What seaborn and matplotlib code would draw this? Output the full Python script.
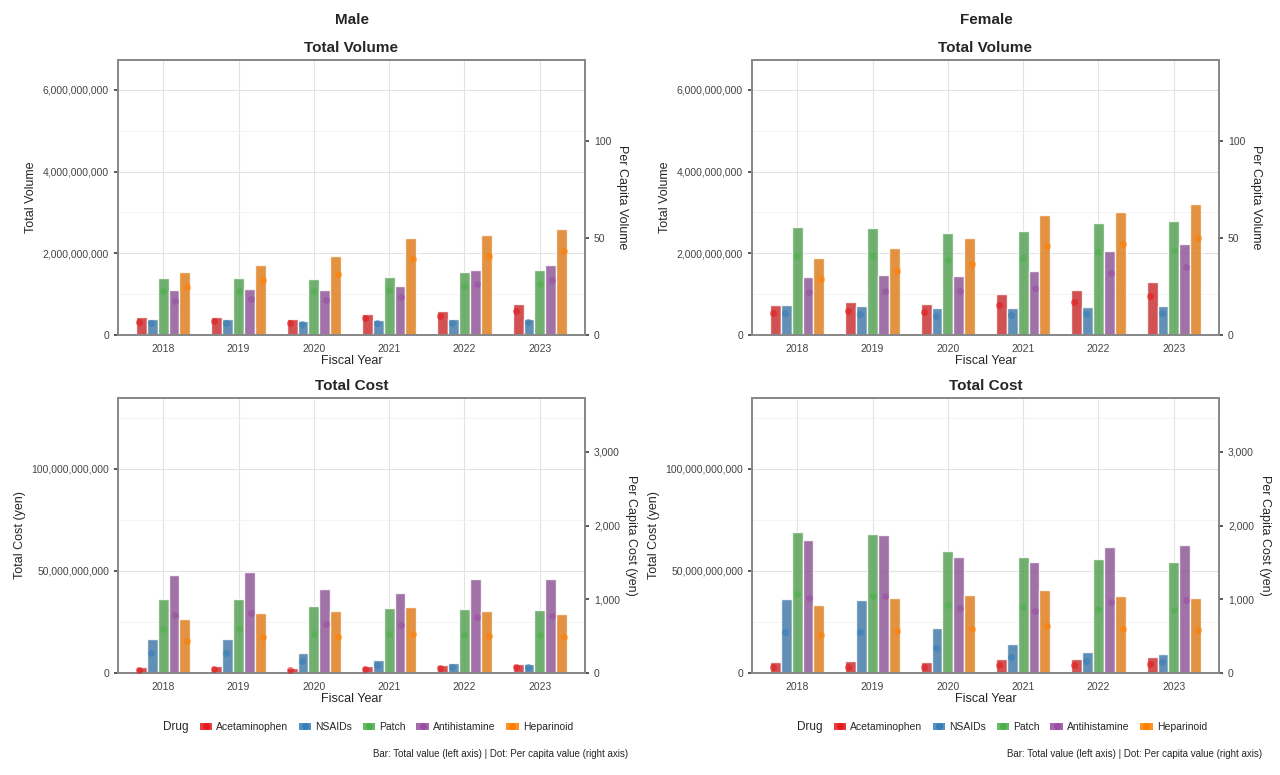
import matplotlib
matplotlib.use("Agg")
import matplotlib.pyplot as plt
import matplotlib.ticker as mticker
from matplotlib.patches import Patch
from matplotlib.lines import Line2D
import numpy as np
import pandas as pd
import seaborn as sns

YEARS = ["2018", "2019", "2020", "2021", "2022", "2023"]
DRUGS = ["Acetaminophen", "NSAIDs", "Patch", "Antihistamine", "Heparinoid"]
COLORS = ["#E41A1C", "#377EB8", "#4DAF4A", "#984EA3", "#FF7F00"]

# total volume (billions), per drug, per year
male_vol = {
    "Acetaminophen": [0.43, 0.45, 0.38, 0.51, 0.58, 0.75],
    "NSAIDs": [0.38, 0.38, 0.35, 0.37, 0.38, 0.40],
    "Patch": [1.40, 1.40, 1.38, 1.42, 1.55, 1.60],
    "Antihistamine": [1.09, 1.13, 1.10, 1.19, 1.60, 1.71],
    "Heparinoid": [1.53, 1.72, 1.93, 2.38, 2.45, 2.60],
}
male_vol_pc = {
    "Acetaminophen": [6.9, 7.4, 6.0, 8.6, 9.8, 12.6],
    "NSAIDs": [6.4, 6.0, 5.5, 6.0, 6.4, 6.9],
    "Patch": [22.9, 22.9, 22.8, 23.3, 25.5, 26.4],
    "Antihistamine": [17.8, 18.6, 18.1, 19.7, 26.4, 28.4],
    "Heparinoid": [25.0, 28.3, 31.7, 39.1, 40.7, 43.4],
}
female_vol = {
    "Acetaminophen": [0.73, 0.80, 0.77, 1.00, 1.09, 1.30],
    "NSAIDs": [0.73, 0.70, 0.65, 0.67, 0.69, 0.72],
    "Patch": [2.65, 2.62, 2.50, 2.54, 2.74, 2.80],
    "Antihistamine": [1.42, 1.48, 1.45, 1.56, 2.06, 2.22],
    "Heparinoid": [1.88, 2.13, 2.38, 2.93, 3.02, 3.21],
}
female_vol_pc = {
    "Acetaminophen": [11.2, 12.6, 11.7, 15.5, 16.9, 20.2],
    "NSAIDs": [11.2, 10.9, 10.0, 10.3, 10.9, 11.2],
    "Patch": [41.0, 40.9, 38.8, 39.7, 42.8, 44.0],
    "Antihistamine": [22.1, 22.9, 22.6, 24.3, 32.2, 35.0],
    "Heparinoid": [29.1, 32.9, 36.9, 45.7, 47.2, 50.3],
}
# total cost (billion yen)
male_cost = {
    "Acetaminophen": [3.0, 3.3, 2.6, 3.3, 3.8, 4.6],
    "NSAIDs": [16.6, 16.6, 10.0, 6.6, 5.1, 4.6],
    "Patch": [36.4, 36.1, 32.6, 31.8, 31.3, 30.8],
    "Antihistamine": [48.2, 49.5, 41.0, 39.2, 46.1, 46.2],
    "Heparinoid": [26.6, 29.2, 30.3, 32.3, 30.2, 29.0],
}
male_cost_pc = {
    "Acetaminophen": [45, 50, 45, 55, 64, 77],
    "NSAIDs": [273, 273, 164, 109, 82, 77],
    "Patch": [591, 591, 532, 523, 518, 514],
    "Antihistamine": [786, 809, 668, 645, 764, 773],
    "Heparinoid": [432, 482, 495, 532, 500, 482],
}
female_cost = {
    "Acetaminophen": [5.4, 6.1, 5.4, 6.7, 6.7, 8.0],
    "NSAIDs": [36.2, 35.7, 22.0, 14.3, 10.5, 9.2],
    "Patch": [69.2, 67.9, 59.7, 57.0, 55.6, 54.4],
    "Antihistamine": [65.2, 67.5, 56.7, 54.3, 61.8, 62.6],
    "Heparinoid": [33.3, 36.9, 38.2, 40.7, 37.9, 36.7],
}
female_cost_pc = {
    "Acetaminophen": [77, 86, 77, 105, 105, 127],
    "NSAIDs": [559, 555, 336, 218, 164, 145],
    "Patch": [1068, 1050, 923, 891, 873, 855],
    "Antihistamine": [1014, 1050, 877, 845, 968, 986],
    "Heparinoid": [514, 568, 591, 636, 591, 577],
}


def to_long(total, per_capita, scale):
    rows = []
    for drug in DRUGS:
        for i, year in enumerate(YEARS):
            rows.append({"year": year, "drug": drug,
                         "total": total[drug][i] * scale,
                         "pc": per_capita[drug][i]})
    return pd.DataFrame(rows)


def draw_panel(ax, df, title, ylabel, rlabel, ylim, rlim, yticks, rticks):
    sns.barplot(data=df, x="year", y="total", hue="drug", hue_order=DRUGS,
                palette=COLORS, width=0.72, alpha=0.85, edgecolor="white",
                linewidth=1, legend=False, ax=ax, zorder=2)
    ax.set_ylim(*ylim)
    ax.set_yticks(yticks)
    ax.yaxis.set_minor_locator(mticker.MultipleLocator((yticks[1] - yticks[0]) / 2))
    ax.yaxis.set_major_formatter(mticker.FuncFormatter(lambda v, p: f"{v:,.0f}"))
    ax.grid(True, which="major", color="#e3e3e3", lw=0.8, zorder=0)
    ax.grid(True, which="minor", axis="y", color="#f1f1f1", lw=0.6, zorder=0)
    ax.set_axisbelow(True)
    ax.set_title(title, fontsize=11, fontweight="bold")
    ax.set_xlabel("Fiscal Year", fontsize=9, labelpad=1)
    ax.set_ylabel(ylabel, fontsize=9)
    ax.tick_params(labelsize=7.5, colors="#444444", length=3, which="major")
    ax.tick_params(which="minor", length=0)
    for s in ax.spines.values():
        s.set_color("#888888")

    ax2 = ax.twinx()
    sns.stripplot(data=df, x="year", y="pc", hue="drug", hue_order=DRUGS,
                  palette=COLORS, dodge=True, jitter=False, size=5, alpha=0.6,
                  legend=False, ax=ax2, zorder=3)
    ax2.set_ylim(*rlim)
    ax2.set_yticks(rticks)
    ax2.yaxis.set_major_formatter(mticker.FuncFormatter(lambda v, p: f"{v:,.0f}"))
    ax2.set_ylabel(rlabel, fontsize=9, rotation=270, labelpad=12)
    ax2.tick_params(labelsize=7.5, colors="#444444", length=3)
    ax2.grid(False)
    for s in ax2.spines.values():
        s.set_color("#888888")
    ax.set_xlim(-0.6, 5.6)


sns.set_theme(style="white")
plt.rcParams["font.family"] = ["Liberation Sans", "DejaVu Sans"]

fig = plt.figure(figsize=(12.8, 7.75), dpi=100)
W, H = 1280, 775
cols = [(118, "Male", male_vol, male_vol_pc, male_cost, male_cost_pc),
        (752, "Female", female_vol, female_vol_pc, female_cost, female_cost_pc)]
for x0, name, vol, vol_pc, cost, cost_pc in cols:
    w = 467
    ax_v = fig.add_axes([x0 / W, 1 - 335 / H, w / W, 275 / H])
    draw_panel(ax_v, to_long(vol, vol_pc, 1e9), "Total Volume", "Total Volume",
               "Per Capita Volume", (0, 6.73e9), (0, 142),
               [0, 2e9, 4e9, 6e9], [0, 50, 100])
    ax_c = fig.add_axes([x0 / W, 1 - 673 / H, w / W, 275 / H])
    draw_panel(ax_c, to_long(cost, cost_pc, 1e9), "Total Cost", "Total Cost (yen)",
               "Per Capita Cost (yen)", (0, 134.6e9), (0, 3732),
               [0, 50e9, 100e9], [0, 1000, 2000, 3000])
    fig.text((x0 + 234) / W, 1 - 20 / H, name, ha="center", va="center",
             fontsize=11, fontweight="bold")

    handles = [(Patch(facecolor=c, alpha=0.85, edgecolor="none"),
                Line2D([], [], marker="o", ls="none", color=c, markersize=4))
               for c in COLORS]
    leg = fig.legend(handles, DRUGS, title="Drug", ncol=5, frameon=False,
                     loc="center", bbox_to_anchor=((x0 + 250) / W, 1 - 727 / H),
                     fontsize=7.5, title_fontsize=8.5, handlelength=1.2,
                     handletextpad=0.4, columnspacing=1.0)
    leg._legend_box.align = "left"
    leg.set_title("Drug")
    # put the title to the left of the entries
    from matplotlib.offsetbox import HPacker
    box = leg._legend_box
    box._children = [HPacker(children=box.get_children(), pad=0, sep=8, align="center")]
    fig.text((x0 + 510) / W, 1 - 754 / H,
             "Bar: Total value (left axis) | Dot: Per capita value (right axis)",
             ha="right", va="center", fontsize=7)

fig.savefig("out.png", dpi=100)
